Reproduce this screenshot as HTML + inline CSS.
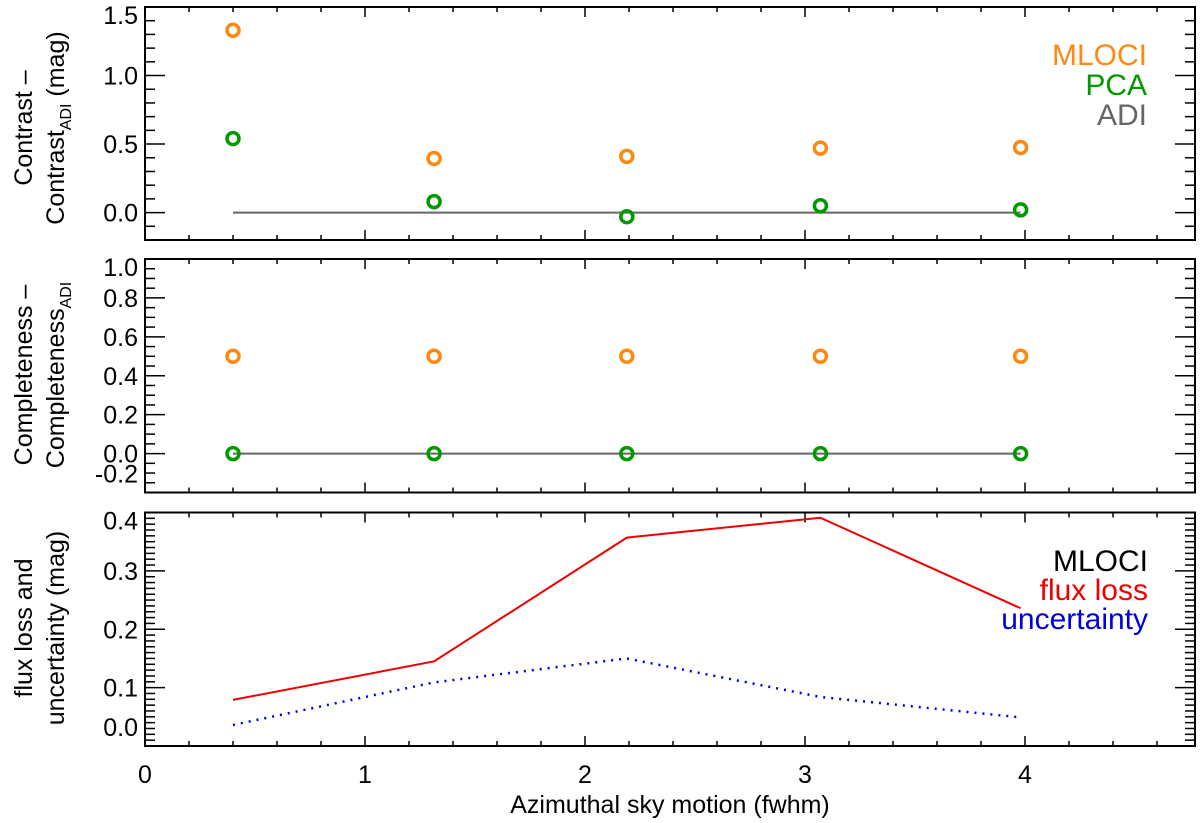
<!DOCTYPE html>
<html><head><meta charset="utf-8"><style>
html,body{margin:0;padding:0;background:#fff;}
svg{display:block;font-family:"Liberation Sans",Arial,sans-serif;}
</style></head><body>
<svg id="chart" width="1200" height="823" viewBox="0 0 1200 823" xmlns="http://www.w3.org/2000/svg"></svg>
<script>
const xPos = [0.4, 1.314, 2.19, 3.07, 3.98];
const mlociContrast = [1.33, 0.395, 0.41, 0.47, 0.475];
const pcaContrast = [0.54, 0.08, -0.03, 0.05, 0.02];
const adiContrast = [0, 0, 0, 0, 0];
const mlociCompleteness = [0.5, 0.5, 0.5, 0.5, 0.5];
const pcaCompleteness = [0, 0, 0, 0, 0];
const adiCompleteness = [0, 0, 0, 0, 0];
const fluxLoss = [0.079, 0.145, 0.357, 0.391, 0.236];
const uncertainty = [0.036, 0.109, 0.150, 0.084, 0.049];
const xTickLabels = ["0","1","2","3","4"];
const p1Ticks = ["0.0","0.5","1.0","1.5"];
const p2Ticks = ["-0.2","0.0","0.2","0.4","0.6","0.8","1.0"];
const p3Ticks = ["0.0","0.1","0.2","0.3","0.4"];

const svg = document.getElementById('chart');
const NS = 'http://www.w3.org/2000/svg';
function mk(tag, attrs, parent){const e=document.createElementNS(NS,tag);for(const k in attrs)e.setAttribute(k,attrs[k]);(parent||svg).appendChild(e);return e;}
const L=145,R=1195,XS=220;
const xs = v => L + v*XS;
const panels=[
 {top:7,bot:240,min:-0.2,max:1.5,major:0.5,minor:0.1,ticks:p1Ticks,name:'contrast'},
 {top:259,bot:492.5,min:-0.2,max:1.0,major:0.2,minor:0.05,ticks:p2Ticks,name:'completeness'},
 {top:512.5,bot:746,min:0,max:0.4,major:0.1,minor:0.01,ticks:p3Ticks,name:'flux'}
];
panels.forEach((p,i)=>{
 p.y = v => p.bot - (v-p.min)/(p.max-p.min)*(p.bot-p.top);
 const g=mk('g',{});
 
 
 const fr=mk('rect',{x:L,y:p.top,width:R-L,height:p.bot-p.top,fill:'none',stroke:'#000','stroke-width':2},g);
 
 
 const nMin=Math.round((p.max-p.min)/p.minor);
 for(let k=0;k<=nMin;k++){
  const v=p.min+k*p.minor; const yy=p.y(v);
  const isMaj=Math.abs(v/p.major-Math.round(v/p.major))<1e-6;
  const len=isMaj?20:10;
  mk('line',{x1:L,x2:L+len,y1:yy,y2:yy,stroke:'#000','stroke-width':1.5},g);
  mk('line',{x1:R,x2:R-len,y1:yy,y2:yy,stroke:'#000','stroke-width':1.5},g);
 }
 p.ticks.forEach(t=>{
  let by=p.y(parseFloat(t))+9;
  by=Math.max(p.top+17, Math.min(p.bot-10, by));
  const tx=mk('text',{x:L-7,y:by,'text-anchor':'end','font-size':25},g);
  tx.textContent=t;
  
  
 });
 for(let k=0;k*0.2<=4.77;k++){
  const v=k*0.2, xx=xs(v);
  const isMaj=Math.abs(v-Math.round(v))<1e-6;
  const len=isMaj?10:5;
  mk('line',{x1:xx,x2:xx,y1:p.bot,y2:p.bot-len,stroke:'#000','stroke-width':1.5},g);
  mk('line',{x1:xx,x2:xx,y1:p.top,y2:p.top+len,stroke:'#000','stroke-width':1.5},g);
 }
});
function circles(arr,p,color,name){
 arr.forEach((v,i)=>{
  const c=mk('circle',{cx:xs(xPos[i]),cy:p.y(v),r:6,fill:'none',stroke:color,'stroke-width':3.5});
  
  
 });
}
function line(arr,p,color,name,extra){
 const pts=arr.map((v,i)=>xs(xPos[i])+','+p.y(v)).join(' ');
 const e=mk('polyline',Object.assign({points:pts,fill:'none',stroke:color,'stroke-width':2},extra||{}));
 
 
}
line(adiContrast,panels[0],'#666','adi-contrast-line');
circles(mlociContrast,panels[0],'#ff8811','mloci-contrast-point');
circles(pcaContrast,panels[0],'#009900','pca-contrast-point');
line(adiCompleteness,panels[1],'#666','adi-completeness-line');
circles(mlociCompleteness,panels[1],'#ff8811','mloci-completeness-point');
circles(pcaCompleteness,panels[1],'#009900','pca-completeness-point');
line(fluxLoss,panels[2],'#ee0000','flux-loss-line');
line(uncertainty,panels[2],'#0000dd','uncertainty-line',{'stroke-dasharray':'2,6','stroke-width':2.5});

function txt(s,attrs,name){const t=mk('text',attrs);t.textContent=s;return t;}
txt('MLOCI',{x:1147,y:65,'text-anchor':'end','font-size':30,fill:'#ff8811'},'legend-mloci');
txt('PCA',{x:1147,y:95,'text-anchor':'end','font-size':30,fill:'#009900'},'legend-pca');
txt('ADI',{x:1147,y:125,'text-anchor':'end','font-size':30,fill:'#666'},'legend-adi');
txt('MLOCI',{x:1148,y:571,'text-anchor':'end','font-size':30,fill:'#000'},'legend-mloci-flux');
txt('flux loss',{x:1148,y:600,'text-anchor':'end','font-size':30,fill:'#ee0000'},'legend-flux-loss');
txt('uncertainty',{x:1148,y:629,'text-anchor':'end','font-size':30,fill:'#0000dd'},'legend-uncertainty');
xTickLabels.forEach(t=>{txt(t,{x:xs(parseFloat(t)),y:783,'text-anchor':'middle','font-size':25},'x-tick-label');});
txt('Azimuthal sky motion (fwhm)',{x:670,y:813,'text-anchor':'middle','font-size':25},'x-axis-title');
function ytitle(lines,cy,name){
 const g=mk('g',{transform:'translate(0,'+cy+') rotate(-90)'});
 
 
 lines.forEach((ln,i)=>{const t=mk('text',{x:0,y:i===0?32:64,'text-anchor':'middle','font-size':25},g);t.innerHTML=ln;});
}
ytitle(['Contrast –','Contrast<tspan font-size="16" dy="7">ADI</tspan><tspan dy="-7"> (mag)</tspan>'],128,'contrast-y-title');
ytitle(['Completeness –','Completeness<tspan font-size="16" dy="7">ADI</tspan>'],375,'completeness-y-title');
ytitle(['flux loss and','uncertainty (mag)'],628,'flux-y-title');
</script>
</body></html>
